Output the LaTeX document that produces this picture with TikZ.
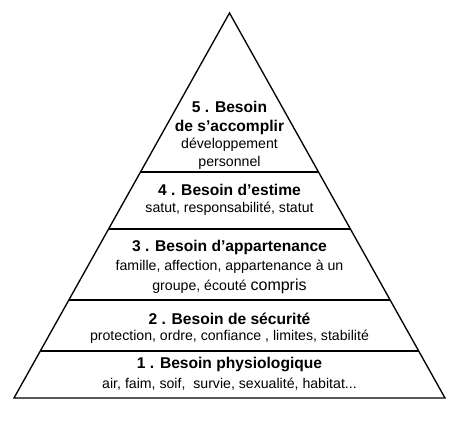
\documentclass[tikz,border=0pt]{standalone}
\usepackage{fontspec}
\setmainfont{Liberation Sans}
\tikzset{every picture/.style={line width=1pt}}
\tikzset{
  titre/.style={font=\fontsize{11.7}{13}\bfseries\selectfont, inner sep=0pt},
  detail/.style={font=\fontsize{10.6}{12}\selectfont, inner sep=0pt}
}

\begin{document}
\begin{tikzpicture}[x=0.75pt,y=0.75pt,yscale=-1,xscale=1]
\useasboundingbox (0,0) rectangle (469,432);

%Shape: Triangle [id:pyramide] 
\draw   (229.5,13) -- (445,398) -- (14,398) -- cycle ;
%Straight Lines [id:niveaux] 
\draw   (140.5,172) -- (318.5,172) ;
\draw   (108.5,229) -- (350.5,229) ;
\draw   (69,300) -- (390,300) ;
\draw   (40.5,351) -- (418.5,351) ;

% niveau 5
\node [titre] (t5a) at (229.5,107) {5 . Besoin};
\node [titre] (t5b) at (229.5,127) {de s’accomplir};
\node [detail] (d5a) at (229.5,145) {développement};
\node [detail] (d5b) at (229.5,163) {personnel};
% niveau 4
\node [titre] (t4) at (229.5,190) {4 . Besoin d’estime};
\node [detail] (d4) at (229.5,209) {satut, responsabilité, statut};
% niveau 3
\node [titre] (t3) at (229.5,247) {3 . Besoin d’appartenance};
\node [detail] (d3a) at (229.5,267) {famille, affection, appartenance à un};
\node [detail] (d3b) at (229.5,286) {groupe, écouté {\fontsize{12}{12}\selectfont compris}};
% niveau 2
\node [titre] (t2) at (229.5,319) {2 . Besoin de sécurité};
\node [detail] (d2) at (229.5,337) {protection, ordre, confiance , limites, stabilité};
% niveau 1
\node [titre] (t1) at (229.5,365) {1 . Besoin physiologique};
\node [detail] (d1) at (229.5,384) {air, faim, soif,\ \ survie, sexualité, habitat...};

\end{tikzpicture}
\end{document}
